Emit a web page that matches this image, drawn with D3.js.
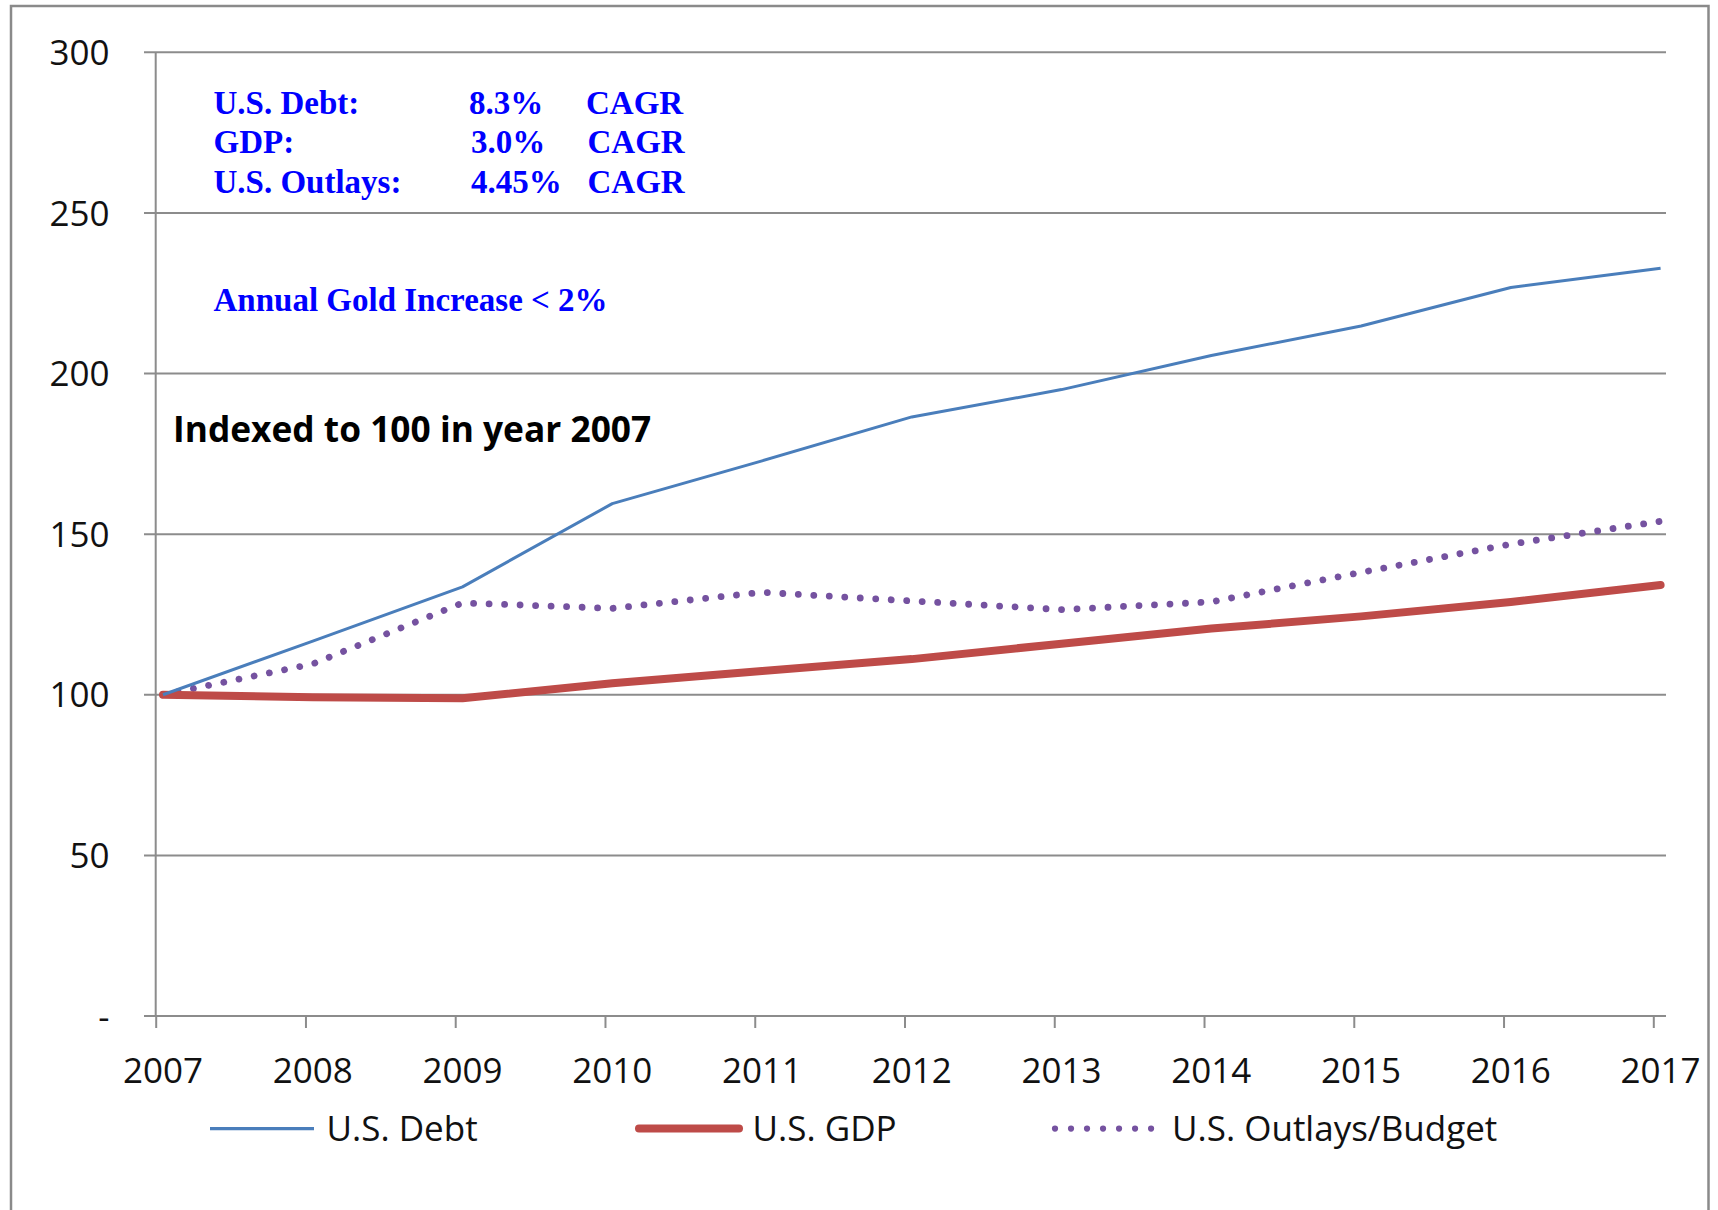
<!DOCTYPE html>
<html>
<head>
<meta charset="utf-8">
<script src="https://cdn.jsdelivr.net/npm/d3@7"></script>
<style>
  html, body { margin: 0; padding: 0; background: #fff; }
  svg { display: block; }
</style>
</head>
<body>
<svg id="chart" width="1718" height="1210"></svg>
<script>
// ---- data ----
const years = [2007, 2008, 2009, 2010, 2011, 2012, 2013, 2014, 2015, 2016, 2017];
const debt    = [100, 116.7, 133.6, 159.5, 172.8, 186.5, 195.0, 205.6, 214.8, 226.8, 232.8];
const gdp     = [100, 99.2, 98.9, 103.6, 107.4, 111.1, 115.9, 120.6, 124.4, 128.9, 134.2];
const outlays = [100, 109.6, 128.6, 126.9, 131.9, 129.2, 126.5, 128.9, 138.1, 146.9, 154.0];
const yTicks = [0, 50, 100, 150, 200, 250, 300];
const yTickLabels = ["-", "50", "100", "150", "200", "250", "300"];
const seriesNames = ["U.S. Debt", "U.S. GDP", "U.S. Outlays/Budget"];
const cagrLabels = ["U.S. Debt:", "GDP:", "U.S. Outlays:"];
const cagrValues = ["8.3%", "3.0%", "4.45%"];
const cagrUnit = "CAGR";
const goldNote = "Annual Gold Increase < 2%";
const indexNote = "Indexed to 100 in year 2007";

// ---- setup ----
const svg = d3.select("#chart");
const W = 1718, H = 1210;

svg.append("rect").attr("x", 0).attr("y", 0).attr("width", W).attr("height", H).attr("fill", "#fff");
// outer frame (open at bottom, extends past image)
svg.append("rect")
  .attr("x", 11).attr("y", 6).attr("width", 1697.5).attr("height", 1230)
  .attr("fill", "none").attr("stroke", "#8a8a8a").attr("stroke-width", 2.5);

const x = d3.scaleLinear().domain([2007, 2017]).range([163, 1660.6]);
const xTick = d3.scaleLinear().domain([2007, 2017]).range([155.7, 1653.3]);
const y = d3.scaleLinear().domain([0, 300]).range([1016, 52.3]);

const gridX0 = 144, gridX1 = 1666;
const axisFont = "'Open Sans', sans-serif";

// gridlines
svg.append("g").selectAll("line").data(yTicks).join("line")
  .attr("x1", gridX0).attr("x2", gridX1)
  .attr("y1", d => y(d)).attr("y2", d => y(d))
  .attr("stroke", "#8c8c8c").attr("stroke-width", 2);

// y axis line
svg.append("line")
  .attr("x1", xTick(2007)).attr("x2", xTick(2007))
  .attr("y1", y(300)).attr("y2", y(0))
  .attr("stroke", "#8c8c8c").attr("stroke-width", 2);

// x axis tick marks via d3 axis
const xAxis = d3.axisBottom(xTick).tickValues(years).tickSize(12).tickFormat("");
const gx = svg.append("g").attr("transform", `translate(0,${y(0)})`).call(xAxis);
gx.select(".domain").remove();
gx.selectAll(".tick line").attr("stroke", "#8c8c8c").attr("stroke-width", 2);

// x labels
svg.append("g").selectAll("text").data(years).join("text")
  .attr("x", d => x(d)).attr("y", 1082.5)
  .attr("text-anchor", "middle")
  .attr("font-family", axisFont).attr("font-size", 35).attr("fill", "#111")
  .text(d => d);

// y labels
svg.append("g").selectAll("text").data(yTicks).join("text")
  .attr("x", 109.5).attr("y", d => y(d)).attr("dy", "0.36em")
  .attr("text-anchor", "end")
  .attr("font-family", axisFont).attr("font-size", 35).attr("fill", "#111")
  .text((d, i) => yTickLabels[i]);

// lines
const line = d3.line().x((d, i) => x(years[i])).y(d => y(d));

svg.append("path").datum(outlays).attr("d", line)
  .attr("fill", "none").attr("stroke", "#7552a0").attr("stroke-width", 6.8)
  .attr("stroke-linecap", "round").attr("stroke-dasharray", "0.01 15.5");

svg.append("path").datum(gdp).attr("d", line)
  .attr("fill", "none").attr("stroke", "#be4b48").attr("stroke-width", 8)
  .attr("stroke-linecap", "round").attr("stroke-linejoin", "round");

svg.append("path").datum(debt).attr("d", line)
  .attr("fill", "none").attr("stroke", "#4a7ebb").attr("stroke-width", 3)
  .attr("stroke-linejoin", "round");

// legend
const legendY = 1128.6;
const legendItems = [
  { name: seriesNames[0], x0: 210, x1: 314, tx: 326.5, stroke: "#4a7ebb", w: 3.2, cap: "butt", dash: null },
  { name: seriesNames[1], x0: 639, x1: 739, tx: 752.5, stroke: "#be4b48", w: 8, cap: "round", dash: null },
  { name: seriesNames[2], x0: 1055, x1: 1152, tx: 1172, stroke: "#7552a0", w: 6.2, cap: "round", dash: "0.01 16" }
];
const lg = svg.append("g");
legendItems.forEach(it => {
  const l = lg.append("line")
    .attr("x1", it.x0).attr("x2", it.x1).attr("y1", legendY).attr("y2", legendY)
    .attr("stroke", it.stroke).attr("stroke-width", it.w).attr("stroke-linecap", it.cap);
  if (it.dash) l.attr("stroke-dasharray", it.dash);
  lg.append("text").attr("x", it.tx).attr("y", 1140.6)
    .attr("font-family", axisFont).attr("font-size", 35).attr("fill", "#111")
    .text(it.name);
});

// CAGR annotation block
const serif = "'Liberation Serif', 'Times New Roman', serif";
const rowY = [114, 153.4, 192.8];
const ann = svg.append("g").attr("font-family", serif).attr("font-weight", "bold")
  .attr("font-size", 33).attr("fill", "#0000ff");
cagrLabels.forEach((t, i) => {
  ann.append("text").attr("x", 213.5).attr("y", rowY[i]).text(t);
  ann.append("text").attr("x", i === 0 ? 469 : 471).attr("y", rowY[i]).text(cagrValues[i]);
  ann.append("text").attr("x", i === 0 ? 586 : 587.5).attr("y", rowY[i]).text(cagrUnit);
});
ann.append("text").attr("x", 213.5).attr("y", 311).text(goldNote);

// index note
svg.append("text").attr("x", 173).attr("y", 441.5)
  .attr("font-family", axisFont).attr("font-weight", "bold").attr("font-size", 35.3)
  .attr("fill", "#000").text(indexNote);
</script>
</body>
</html>
